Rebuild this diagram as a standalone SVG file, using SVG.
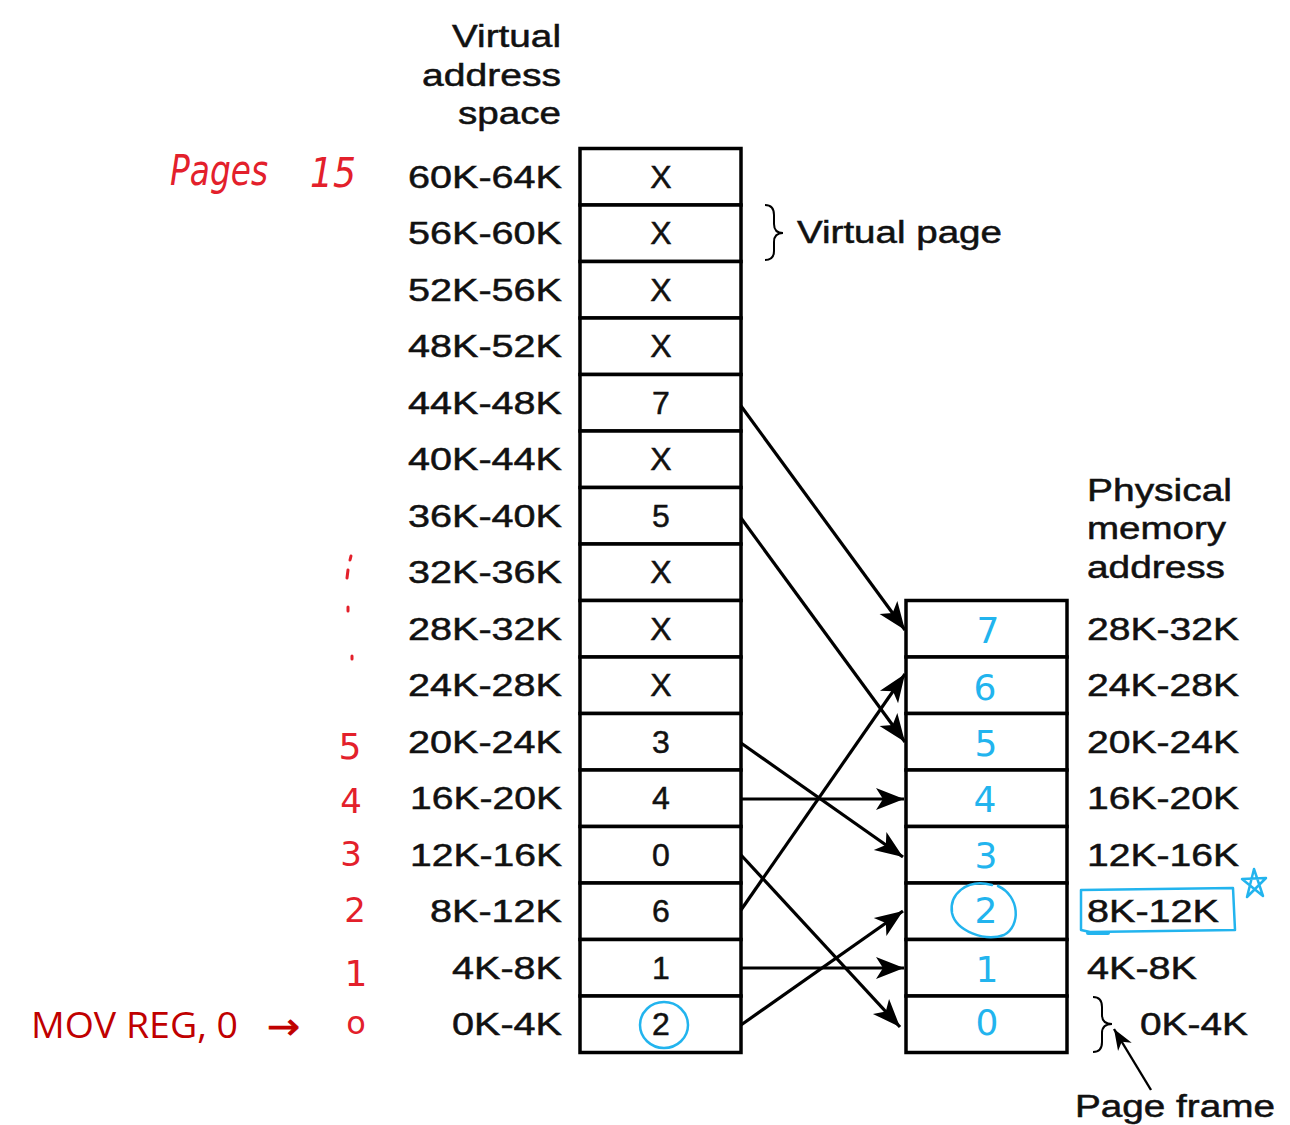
<svg xmlns="http://www.w3.org/2000/svg" width="1290" height="1125" viewBox="0 0 1290 1125">
<style>
.cell{fill:#fff;stroke:#000;stroke-width:3.5}
.t{font-family:"Liberation Sans",Arial,sans-serif;font-size:32px;fill:#111;stroke:#111;stroke-width:0.5}
.tt{font-family:"Liberation Sans",Arial,sans-serif;font-size:31px;fill:#111;stroke:#111;stroke-width:0.5}
.v{font-family:"Liberation Sans",Arial,sans-serif;font-size:32px;fill:#111;stroke:#111;stroke-width:0.5;text-anchor:middle}
.conn{stroke:#000;stroke-width:3.2;fill:none}
.brace{stroke:#000;stroke-width:2;fill:none}
.red{font-family:"DejaVu Sans",sans-serif;fill:#e3202b}
.blue{font-family:"DejaVu Sans",sans-serif;fill:#22b4ee;font-size:36px;text-anchor:middle}
.bl{stroke:#22b4ee;stroke-width:2.5;fill:none;stroke-linecap:round;stroke-linejoin:round}
</style>
<defs>
<marker id="ah" markerUnits="userSpaceOnUse" viewBox="-30 -13 32 26" refX="0" refY="0" markerWidth="32" markerHeight="26" orient="auto">
<path d="M0,0 L-28,-11 L-21,0 L-28,11 Z" fill="#000"/>
</marker>
<marker id="ahs" markerUnits="userSpaceOnUse" viewBox="-22 -10 24 20" refX="0" refY="0" markerWidth="24" markerHeight="20" orient="auto">
<path d="M0,0 L-21,-8 L-15,0 L-21,8 Z" fill="#000"/>
</marker>
</defs>
<rect width="1290" height="1125" fill="#fff"/>

<g id="title-virtual">
<text class="tt" x="561" y="47" text-anchor="end" textLength="109" lengthAdjust="spacingAndGlyphs">Virtual</text>
<text class="tt" x="561" y="86" text-anchor="end" textLength="139" lengthAdjust="spacingAndGlyphs">address</text>
<text class="tt" x="561" y="124" text-anchor="end" textLength="103" lengthAdjust="spacingAndGlyphs">space</text>
</g>
<g id="title-physical">
<text class="tt" x="1087" y="501" textLength="145" lengthAdjust="spacingAndGlyphs">Physical</text>
<text class="tt" x="1087" y="539" textLength="139" lengthAdjust="spacingAndGlyphs">memory</text>
<text class="tt" x="1087" y="578" textLength="138" lengthAdjust="spacingAndGlyphs">address</text>
</g>

<g id="vpage-15"><text class="t" x="562" y="188" text-anchor="end" textLength="154" lengthAdjust="spacingAndGlyphs">60K-64K</text><rect class="cell" x="580" y="148.5" width="161" height="56.5"/><text class="v" x="661" y="188">X</text></g>
<g id="vpage-14"><text class="t" x="562" y="244" text-anchor="end" textLength="154" lengthAdjust="spacingAndGlyphs">56K-60K</text><rect class="cell" x="580" y="205" width="161" height="56.5"/><text class="v" x="661" y="244">X</text></g>
<g id="vpage-13"><text class="t" x="562" y="301" text-anchor="end" textLength="154" lengthAdjust="spacingAndGlyphs">52K-56K</text><rect class="cell" x="580" y="261.5" width="161" height="56.5"/><text class="v" x="661" y="301">X</text></g>
<g id="vpage-12"><text class="t" x="562" y="357" text-anchor="end" textLength="154" lengthAdjust="spacingAndGlyphs">48K-52K</text><rect class="cell" x="580" y="318" width="161" height="56.5"/><text class="v" x="661" y="357">X</text></g>
<g id="vpage-11"><text class="t" x="562" y="414" text-anchor="end" textLength="154" lengthAdjust="spacingAndGlyphs">44K-48K</text><rect class="cell" x="580" y="374.5" width="161" height="56.5"/><text class="v" x="661" y="414">7</text></g>
<g id="vpage-10"><text class="t" x="562" y="470" text-anchor="end" textLength="154" lengthAdjust="spacingAndGlyphs">40K-44K</text><rect class="cell" x="580" y="431" width="161" height="56.5"/><text class="v" x="661" y="470">X</text></g>
<g id="vpage-9"><text class="t" x="562" y="527" text-anchor="end" textLength="154" lengthAdjust="spacingAndGlyphs">36K-40K</text><rect class="cell" x="580" y="487.5" width="161" height="56.5"/><text class="v" x="661" y="527">5</text></g>
<g id="vpage-8"><text class="t" x="562" y="583" text-anchor="end" textLength="154" lengthAdjust="spacingAndGlyphs">32K-36K</text><rect class="cell" x="580" y="544" width="161" height="56.5"/><text class="v" x="661" y="583">X</text></g>
<g id="vpage-7"><text class="t" x="562" y="640" text-anchor="end" textLength="154" lengthAdjust="spacingAndGlyphs">28K-32K</text><rect class="cell" x="580" y="600.5" width="161" height="56.5"/><text class="v" x="661" y="640">X</text></g>
<g id="vpage-6"><text class="t" x="562" y="696" text-anchor="end" textLength="154" lengthAdjust="spacingAndGlyphs">24K-28K</text><rect class="cell" x="580" y="657" width="161" height="56.5"/><text class="v" x="661" y="696">X</text></g>
<g id="vpage-5"><text class="t" x="562" y="753" text-anchor="end" textLength="154" lengthAdjust="spacingAndGlyphs">20K-24K</text><rect class="cell" x="580" y="713.5" width="161" height="56.5"/><text class="v" x="661" y="753">3</text></g>
<g id="vpage-4"><text class="t" x="562" y="809" text-anchor="end" textLength="152" lengthAdjust="spacingAndGlyphs">16K-20K</text><rect class="cell" x="580" y="770" width="161" height="56.5"/><text class="v" x="661" y="809">4</text></g>
<g id="vpage-3"><text class="t" x="562" y="866" text-anchor="end" textLength="152" lengthAdjust="spacingAndGlyphs">12K-16K</text><rect class="cell" x="580" y="826.5" width="161" height="56.5"/><text class="v" x="661" y="866">0</text></g>
<g id="vpage-2"><text class="t" x="562" y="922" text-anchor="end" textLength="132" lengthAdjust="spacingAndGlyphs">8K-12K</text><rect class="cell" x="580" y="883" width="161" height="56.5"/><text class="v" x="661" y="922">6</text></g>
<g id="vpage-1"><text class="t" x="562" y="979" text-anchor="end" textLength="110" lengthAdjust="spacingAndGlyphs">4K-8K</text><rect class="cell" x="580" y="939.5" width="161" height="56.5"/><text class="v" x="661" y="979">1</text></g>
<g id="vpage-0"><text class="t" x="562" y="1035" text-anchor="end" textLength="110" lengthAdjust="spacingAndGlyphs">0K-4K</text><rect class="cell" x="580" y="996" width="161" height="56.5"/><text class="v" x="661" y="1035">2</text></g>

<g id="frame-7"><rect class="cell" x="906" y="600.5" width="161" height="56.5"/><text class="t" x="1087" y="640" textLength="152" lengthAdjust="spacingAndGlyphs">28K-32K</text></g>
<g id="frame-6"><rect class="cell" x="906" y="657" width="161" height="56.5"/><text class="t" x="1087" y="696" textLength="152" lengthAdjust="spacingAndGlyphs">24K-28K</text></g>
<g id="frame-5"><rect class="cell" x="906" y="713.5" width="161" height="56.5"/><text class="t" x="1087" y="753" textLength="152" lengthAdjust="spacingAndGlyphs">20K-24K</text></g>
<g id="frame-4"><rect class="cell" x="906" y="770" width="161" height="56.5"/><text class="t" x="1087" y="809" textLength="152" lengthAdjust="spacingAndGlyphs">16K-20K</text></g>
<g id="frame-3"><rect class="cell" x="906" y="826.5" width="161" height="56.5"/><text class="t" x="1087" y="866" textLength="152" lengthAdjust="spacingAndGlyphs">12K-16K</text></g>
<g id="frame-2"><rect class="cell" x="906" y="883" width="161" height="56.5"/><text class="t" x="1087" y="922" textLength="132" lengthAdjust="spacingAndGlyphs">8K-12K</text></g>
<g id="frame-1"><rect class="cell" x="906" y="939.5" width="161" height="56.5"/><text class="t" x="1087" y="979" textLength="110" lengthAdjust="spacingAndGlyphs">4K-8K</text></g>
<g id="frame-0"><rect class="cell" x="906" y="996" width="161" height="56.5"/><text class="t" x="1140" y="1035" textLength="108" lengthAdjust="spacingAndGlyphs">0K-4K</text></g>

<g id="connectors">
<line class="conn" x1="741" y1="406" x2="905" y2="630" marker-end="url(#ah)"/>
<line class="conn" x1="741" y1="518" x2="905" y2="742" marker-end="url(#ah)"/>
<line class="conn" x1="741" y1="743" x2="903" y2="857" marker-end="url(#ah)"/>
<line class="conn" x1="741" y1="799" x2="904" y2="799" marker-end="url(#ah)"/>
<line class="conn" x1="741" y1="855" x2="900" y2="1027" marker-end="url(#ah)"/>
<line class="conn" x1="741" y1="910" x2="905" y2="674" marker-end="url(#ah)"/>
<line class="conn" x1="741" y1="968" x2="904" y2="968" marker-end="url(#ah)"/>
<line class="conn" x1="741" y1="1025" x2="903" y2="911" marker-end="url(#ah)"/>
<line x1="1151" y1="1090" x2="1114" y2="1029" stroke="#000" stroke-width="2.4" marker-end="url(#ahs)"/>
</g>

<g id="virtual-page-label">
<path class="brace" d="M765,205 Q774,205 774,215 L774,224 Q774,233 783,233 Q774,233 774,242 L774,251 Q774,260 765,260"/>
<text class="tt" x="797" y="243" textLength="205" lengthAdjust="spacingAndGlyphs">Virtual page</text>
</g>
<g id="page-frame-label">
<path class="brace" d="M1093,997 Q1102,997 1102,1007 L1102,1015 Q1102,1024 1112,1024 Q1102,1024 1102,1033 L1102,1042 Q1102,1052 1093,1052"/>
<text class="tt" x="1075" y="1117" textLength="200" lengthAdjust="spacingAndGlyphs">Page frame</text>
</g>

<g id="red-notes">
<text class="red" x="170" y="185" font-size="42" font-style="italic" textLength="98" lengthAdjust="spacingAndGlyphs">Pages</text>
<text class="red" x="310" y="187" font-size="40" font-style="italic" textLength="46" lengthAdjust="spacingAndGlyphs">15</text>
<path d="M351,556 l-1,4 M348,570 l-1,8 M348,607 l0,4 M352,656 l0,3" stroke="#e3202b" stroke-width="3" stroke-linecap="round"/>
<text class="red" x="350" y="759" font-size="36" text-anchor="middle">5</text>
<text class="red" x="351" y="813" font-size="34" text-anchor="middle">4</text>
<text class="red" x="351" y="866" font-size="34" text-anchor="middle">3</text>
<text class="red" x="355" y="922" font-size="34" text-anchor="middle">2</text>
<text class="red" x="356" y="986" font-size="36" text-anchor="middle">1</text>
<text class="red" x="356" y="1034" font-size="32" text-anchor="middle">o</text>
<text x="31" y="1038" font-family="'Open Sans','Noto Sans',sans-serif" font-size="36" fill="#c00000" textLength="207" lengthAdjust="spacingAndGlyphs">MOV REG, 0</text>
<text x="267" y="1039" font-family="'DejaVu Sans',sans-serif" font-size="36" fill="#c00000" stroke="#c00000" stroke-width="0.8" textLength="33" lengthAdjust="spacingAndGlyphs">→</text>
</g>

<g id="blue-notes">
<text class="blue" x="988" y="643">7</text>
<text class="blue" x="985" y="700">6</text>
<text class="blue" x="986" y="756">5</text>
<text class="blue" x="985" y="812">4</text>
<text class="blue" x="986" y="868">3</text>
<text class="blue" x="986" y="923">2</text>
<text class="blue" x="987" y="982">1</text>
<text class="blue" x="987" y="1035">0</text>
<ellipse class="bl" cx="664" cy="1025" rx="24" ry="23"/>
<path class="bl" d="M992,885 C966,878 949,895 952,913 C956,931 985,942 1004,935 C1021,926 1020,896 998,886"/>
<path class="bl" d="M1081,890 L1233,888 L1235,930 L1090,932 L1081,930 Z"/>
<path d="M1088,933 L1108,933" stroke="#22b4ee" stroke-width="4" stroke-linecap="round"/>
<path class="bl" d="M1247,897 L1254,869 L1263,896 L1242,879 L1266,878 Z"/>
</g>
</svg>
